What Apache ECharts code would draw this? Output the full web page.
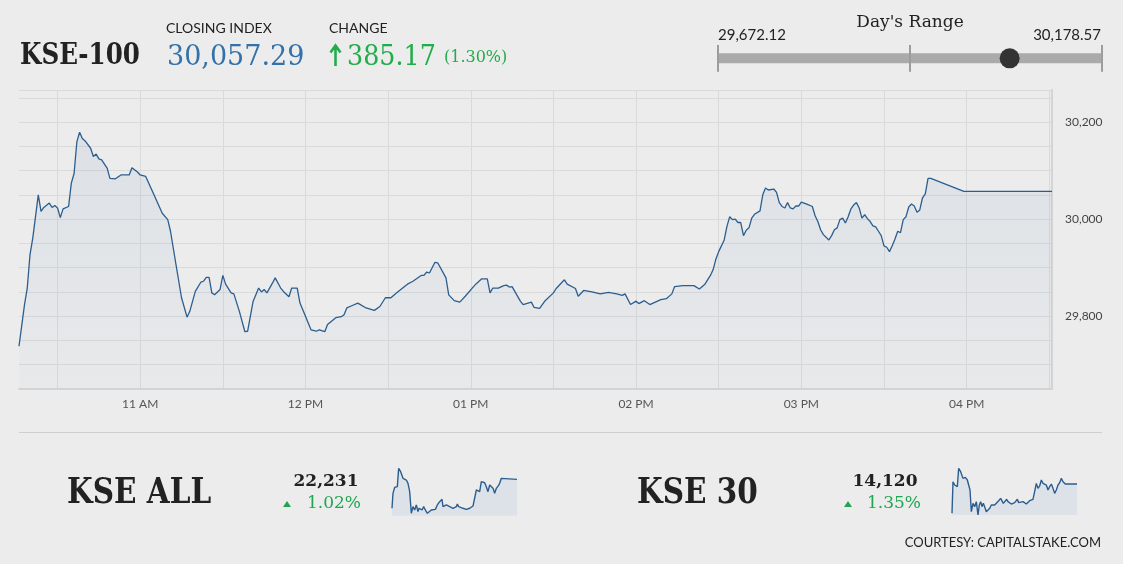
<!DOCTYPE html>
<html>
<head>
<meta charset="utf-8">
<title>KSE-100</title>
<script src="https://cdn.jsdelivr.net/npm/echarts@6/dist/echarts.min.js"></script>
<style>
    html, body {margin: 0; padding: 0; background: #ececec;}
    #wrap {position: relative; width: 1123px; height: 564px; overflow: hidden;}
    #chart {position: absolute; left: 0; top: 0; width: 1123px; height: 564px;}
    .t {position: absolute; white-space: nowrap; line-height: 1; color: #222;}
    .serif {font-family: 'DejaVu Serif', serif;}
    .sans {font-family: 'Lato', sans-serif;}
    .name {font-weight: bold; transform: scaleX(0.82); transform-origin: left top;}
    .green {color: #22ad4b;}
    .tri {position: absolute; width: 0; height: 0; border-left: 4.5px solid transparent; border-right: 4.5px solid transparent; border-bottom: 6px solid #1fa650;}
    .sep {position: absolute; left: 19px; top: 432px; width: 1083px; height: 1px; background: #cfcfcf;}
</style>
</head>
<body>
<div id="wrap">
    <div id="chart"></div>

    <!-- 顶部：指数名、收盘、涨跌 -->
    <div class="t serif name" style="left:20px;top:39px;font-size:30px;">KSE-100</div>
    <div class="t sans" style="left:166px;top:21px;font-size:14px;">CLOSING INDEX</div>
    <div class="t serif" style="left:167px;top:42px;font-size:27px;color:#3471a9;">30,057.29</div>
    <div class="t sans" style="left:329px;top:21px;font-size:14px;">CHANGE</div>
    <svg style="position:absolute;left:329px;top:43px;" width="13" height="24">
        <path d="M6.5 23 V3 M1.5 9.5 L6.5 2.5 L11.5 9.5" stroke="#22ad4b" stroke-width="2.6" fill="none"/>
    </svg>
    <div class="t serif green" style="left:347px;top:42px;font-size:27px;transform:scaleX(0.94);transform-origin:left top;">385.17</div>
    <div class="t serif green" style="left:444px;top:49px;font-size:16px;">(1.30%)</div>

    <!-- 日内区间 -->
    <div class="t serif" style="left:910px;top:13px;font-size:17px;transform:translateX(-50%);">Day's Range</div>
    <div class="t sans" style="left:718px;top:27px;font-size:15px;">29,672.12</div>
    <div class="t sans" style="right:22px;top:27px;font-size:15px;">30,178.57</div>

    <div class="sep"></div>

    <!-- 底部两个小指数 -->
    <div class="t serif name" style="left:67px;top:472px;font-size:36px;">KSE ALL</div>
    <div class="t serif" style="left:326px;top:472px;font-size:17px;font-weight:bold;transform:translateX(-50%);">22,231</div>
    <div class="tri" style="left:283px;top:501px;"></div>
    <div class="t serif" style="left:307px;top:494px;font-size:17px;color:#1fa650;">1.02%</div>

    <div class="t serif name" style="left:637px;top:472px;font-size:36px;">KSE 30</div>
    <div class="t serif" style="left:885px;top:472px;font-size:17px;font-weight:bold;transform:translateX(-50%);">14,120</div>
    <div class="tri" style="left:844px;top:501px;"></div>
    <div class="t serif" style="left:867px;top:494px;font-size:17px;color:#1fa650;">1.35%</div>

    <div class="t sans" style="right:22px;top:536px;font-size:13px;">COURTESY: CAPITALSTAKE.COM</div>
</div>

<script>
// 时间轴：每分钟一个类目，10:16 ~ 16:31
const START_MINUTE = 616;
const END_MINUTE = 991;

const hourTicks = ['11:00', '12:00', '13:00', '14:00', '15:00', '16:00'];
const hourTickTexts = ['11 AM', '12 PM', '01 PM', '02 PM', '03 PM', '04 PM'];
const yTickLabels = [29800, 30000, 30200];

// KSE-100 日内走势（分钟, 点位）
const kse100Minutes = [
    616, 618, 619, 620, 621, 623, 624, 625, 627, 628, 629, 630, 631, 632, 634, 635, 636, 637, 638, 639,
    640, 642, 643, 644, 645, 646, 648, 649, 651, 653, 656, 657, 659, 660, 662, 665, 668, 670, 671, 673,
    675, 677, 678, 680, 682, 683, 684, 685, 686, 687, 689, 690, 691, 693, 694, 696, 698, 699, 701, 703,
    704, 705, 706, 708, 709, 711, 712, 714, 715, 717, 718, 720, 722, 724, 725, 727, 728, 731, 733, 734,
    735, 737, 739, 742, 745, 747, 749, 751, 753, 757, 759, 762, 763, 764, 765, 767, 768, 771, 772, 774,
    776, 778, 781, 782, 784, 786, 787, 788, 790, 792, 793, 794, 795, 798, 799, 802, 803, 805, 807, 810,
    811, 814, 815, 818, 819, 821, 824, 827, 830, 833, 835, 836, 838, 840, 841, 843, 845, 847, 849, 851,
    853, 854, 857, 861, 863, 865, 867, 868, 869, 870, 872, 873, 874, 875, 876, 877, 878, 879, 880, 881,
    882, 883, 885, 886, 887, 888, 890, 891, 892, 893, 894, 895, 896, 897, 898, 899, 900, 902, 904, 905,
    906, 907, 908, 910, 911, 912, 913, 914, 915, 916, 917, 918, 919, 920, 921, 922, 923, 924, 925, 926,
    927, 928, 929, 930, 931, 932, 933, 934, 935, 936, 937, 938, 939, 940, 941, 942, 943, 944, 945, 946,
    947, 959, 991
];
const kse100Values = [
    29738, 29824, 29858, 29927, 29961, 30050, 30016, 30024, 30033, 30024, 30028, 30023, 30003, 30021, 30026, 30074, 30094, 30159, 30179, 30166,
    30161, 30146, 30129, 30134, 30124, 30122, 30105, 30084, 30083, 30091, 30091, 30106, 30097, 30091, 30088, 30050, 30012, 29999, 29975, 29906,
    29838, 29798, 29810, 29851, 29870, 29872, 29880, 29880, 29848, 29844, 29855, 29884, 29866, 29848, 29846, 29810, 29768, 29769, 29831, 29858,
    29850, 29855, 29848, 29868, 29879, 29858, 29851, 29840, 29858, 29858, 29827, 29800, 29772, 29769, 29772, 29768, 29783, 29797, 29799, 29803,
    29817, 29822, 29827, 29817, 29812, 29820, 29838, 29838, 29848, 29866, 29872, 29884, 29884, 29891, 29889, 29911, 29910, 29879, 29844, 29832,
    29829, 29841, 29861, 29867, 29877, 29877, 29848, 29858, 29858, 29863, 29864, 29860, 29861, 29831, 29824, 29829, 29818, 29816, 29832, 29848,
    29857, 29875, 29866, 29857, 29841, 29853, 29850, 29846, 29849, 29846, 29843, 29846, 29824, 29831, 29826, 29832, 29824, 29829, 29834, 29836,
    29846, 29861, 29863, 29863, 29856, 29866, 29884, 29896, 29918, 29933, 29957, 29985, 30005, 29999, 30000, 29993, 29993, 29966, 29977, 29982,
    30002, 30010, 30017, 30050, 30064, 30060, 30062, 30055, 30034, 30026, 30023, 30034, 30023, 30021, 30027, 30027, 30035, 30031, 30026, 30007,
    29995, 29978, 29968, 29957, 29966, 29978, 29982, 29999, 30002, 29992, 30005, 30021, 30029, 30034, 30023, 30002, 30009, 30001, 29995, 29986,
    29984, 29975, 29966, 29945, 29942, 29933, 29945, 29959, 29975, 29972, 29999, 30005, 30025, 30031, 30027, 30014, 30019, 30044, 30052, 30084,
    30084, 30057, 30057
];

// 日内区间
const dayRange = [29672.12, 30178.57];
const closingIndex = 30057.29;

// KSE ALL 小图
const kseAllMinutes = [
    616, 619, 624, 629, 632, 636, 642, 649, 654, 659, 664, 669, 674, 679, 684, 689, 694, 697, 702, 706,
    711, 716, 722, 726, 734, 740, 746, 752, 759, 766, 769, 774, 779, 784, 789, 794, 799, 804, 809, 812,
    816, 822, 829, 834, 839, 844, 849, 854, 859, 864, 869, 874, 879, 884, 889, 894, 899, 904, 909, 914,
    919, 924, 929, 934, 939, 944, 949, 991
];
const kseAllValues = [
    22040, 22139, 22178, 22172, 22183, 22304, 22282, 22238, 22249, 22227, 22205, 22150, 22007, 22051, 22029, 22062, 22018, 22040, 22051, 22029,
    22051, 22029, 22007, 22018, 22029, 22040, 22033, 22062, 22084, 22099, 22051, 22040, 22062, 22068, 22051, 22055, 22040, 22033, 22051, 22068,
    22051, 22040, 22040, 22029, 22033, 22024, 22040, 22051, 22055, 22062, 22161, 22172, 22150, 22216, 22205, 22209, 22183, 22150, 22194, 22205,
    22172, 22139, 22172, 22187, 22205, 22238, 22238, 22231
];

// KSE 30 小图
const kse30Minutes = [
    616, 619, 624, 629, 632, 636, 642, 649, 656, 662, 666, 670, 674, 679, 684, 689, 694, 698, 702, 706,
    710, 714, 719, 724, 729, 734, 739, 744, 749, 756, 762, 766, 770, 776, 780, 784, 789, 794, 799, 804,
    809, 812, 816, 822, 829, 834, 839, 844, 849, 854, 859, 864, 869, 874, 879, 884, 889, 894, 899, 904,
    909, 914, 919, 924, 929, 934, 939, 944, 949, 956, 991
];
const kse30Values = [
    13997, 14130, 14116, 14123, 14109, 14186, 14172, 14144, 14148, 14137, 14116, 14095, 14004, 14039, 14025, 14046, 13990, 14032, 14046, 14025,
    14039, 14025, 14004, 14004, 14018, 14032, 14025, 14032, 14039, 14050, 14060, 14067, 14039, 14046, 14056, 14046, 14050, 14036, 14032, 14042,
    14050, 14056, 14042, 14046, 14046, 14039, 14036, 14042, 14050, 14056, 14056, 14060, 14123, 14102, 14112, 14137, 14123, 14130, 14116, 14095,
    14109, 14120, 14102, 14081, 14095, 14116, 14126, 14144, 14130, 14120, 14120
];

const pad = n => (n < 10 ? '0' : '') + n;
const toLabel = m => pad(Math.floor(m / 60)) + ':' + pad(m % 60);

const timeCategories = [];
for (let m = START_MINUTE; m <= END_MINUTE; m++) {
    timeCategories.push(toLabel(m));
}

const toPairs = (minutes, values) => minutes.map((m, i) => [toLabel(m), values[i]]);

const LINE_COLOR = '#2b5e8f';

function sparkAxes(gridIndex, min, max) {
    return {
        x: {
            type: 'category', gridIndex: gridIndex, data: timeCategories, boundaryGap: false, show: false
        },
        y: {
            type: 'value', gridIndex: gridIndex, min: min, max: max, show: false, splitLine: {show: false}
        }
    };
}

const sparkAll = sparkAxes(2, 21991, 22315);
const spark30 = sparkAxes(3, 13990, 14193);

const chart = echarts.init(document.getElementById('chart'), null, {renderer: 'canvas'});

chart.setOption({
    animation: false,
    backgroundColor: '#ececec',
    grid: [
        // 主图
        {left: 19, top: 90, width: 1033, height: 299},
        // 日内区间条
        {left: 718, top: 45, width: 383.5, height: 26.7},
        // KSE ALL
        {left: 392, top: 466.7, width: 125, height: 49},
        // KSE 30
        {left: 952, top: 466.7, width: 125, height: 48.3}
    ],
    xAxis: [
        {
            type: 'category',
            gridIndex: 0,
            data: timeCategories,
            boundaryGap: false,
            axisLine: {lineStyle: {color: '#d4d4d4', width: 2}},
            axisTick: {show: false},
            axisLabel: {
                interval: (index, value) => hourTicks.indexOf(value) >= 0,
                formatter: value => {
                    const i = hourTicks.indexOf(value);
                    return i >= 0 ? hourTickTexts[i] : '';
                },
                color: '#555',
                fontFamily: 'Lato',
                fontSize: 12,
                margin: 9
            },
            splitLine: {
                show: true,
                interval: (index, value) => Number(value.slice(3)) % 30 === 0,
                lineStyle: {color: '#dadada', width: 1}
            }
        },
        {
            type: 'value', gridIndex: 1, min: dayRange[0], max: dayRange[1], show: false
        },
        sparkAll.x,
        spark30.x
    ],
    yAxis: [
        {
            type: 'value',
            gridIndex: 0,
            position: 'right',
            min: 29650,
            max: 30266,
            interval: 50,
            axisLine: {show: true, lineStyle: {color: '#d4d4d4', width: 2}},
            axisTick: {show: false},
            axisLabel: {
                formatter: v => (yTickLabels.indexOf(v) >= 0 ? v.toLocaleString('en-US') : ''),
                color: '#444',
                fontFamily: 'Lato',
                fontSize: 12,
                margin: 13
            },
            splitLine: {lineStyle: {color: '#dadada', width: 1}}
        },
        {
            type: 'value', gridIndex: 1, min: 0, max: 1, show: false, splitLine: {show: false}
        },
        sparkAll.y,
        spark30.y
    ],
    series: [
        {
            name: 'KSE-100',
            type: 'line',
            xAxisIndex: 0,
            yAxisIndex: 0,
            data: toPairs(kse100Minutes, kse100Values),
            symbol: 'none',
            lineStyle: {color: LINE_COLOR, width: 1.3},
            areaStyle: {
                origin: 'start',
                color: new echarts.graphic.LinearGradient(0, 0, 0, 1, [
                    {offset: 0, color: 'rgba(80, 125, 175, 0.14)'},
                    {offset: 1, color: 'rgba(80, 125, 175, 0.04)'}
                ])
            }
        },
        {
            // 区间灰条 + 三根刻度
            type: 'line',
            xAxisIndex: 1,
            yAxisIndex: 1,
            data: [[dayRange[0], 0.5], [dayRange[1], 0.5]],
            symbol: 'none',
            z: 2,
            lineStyle: {color: '#aaaaaa', width: 10},
            markLine: {
                silent: true,
                symbol: 'none',
                label: {show: false},
                lineStyle: {color: '#9c9c9c', width: 2, type: 'solid'},
                data: [
                    {xAxis: dayRange[0]},
                    {xAxis: (dayRange[0] + dayRange[1]) / 2},
                    {xAxis: dayRange[1]}
                ]
            }
        },
        {
            // 收盘位置圆点
            type: 'scatter',
            xAxisIndex: 1,
            yAxisIndex: 1,
            data: [[closingIndex, 0.5]],
            symbol: 'circle',
            symbolSize: 20,
            clip: false,
            z: 10,
            itemStyle: {color: '#333333', opacity: 1, borderWidth: 0}
        },
        {
            name: 'KSE ALL',
            type: 'line',
            xAxisIndex: 2,
            yAxisIndex: 2,
            data: toPairs(kseAllMinutes, kseAllValues),
            symbol: 'none',
            lineStyle: {color: LINE_COLOR, width: 1.4},
            areaStyle: {origin: 'start', color: '#dde2e9', opacity: 1}
        },
        {
            name: 'KSE 30',
            type: 'line',
            xAxisIndex: 3,
            yAxisIndex: 3,
            data: toPairs(kse30Minutes, kse30Values),
            symbol: 'none',
            lineStyle: {color: LINE_COLOR, width: 1.4},
            areaStyle: {origin: 'start', color: '#dde2e9', opacity: 1}
        }
    ]
});
</script>
</body>
</html>
